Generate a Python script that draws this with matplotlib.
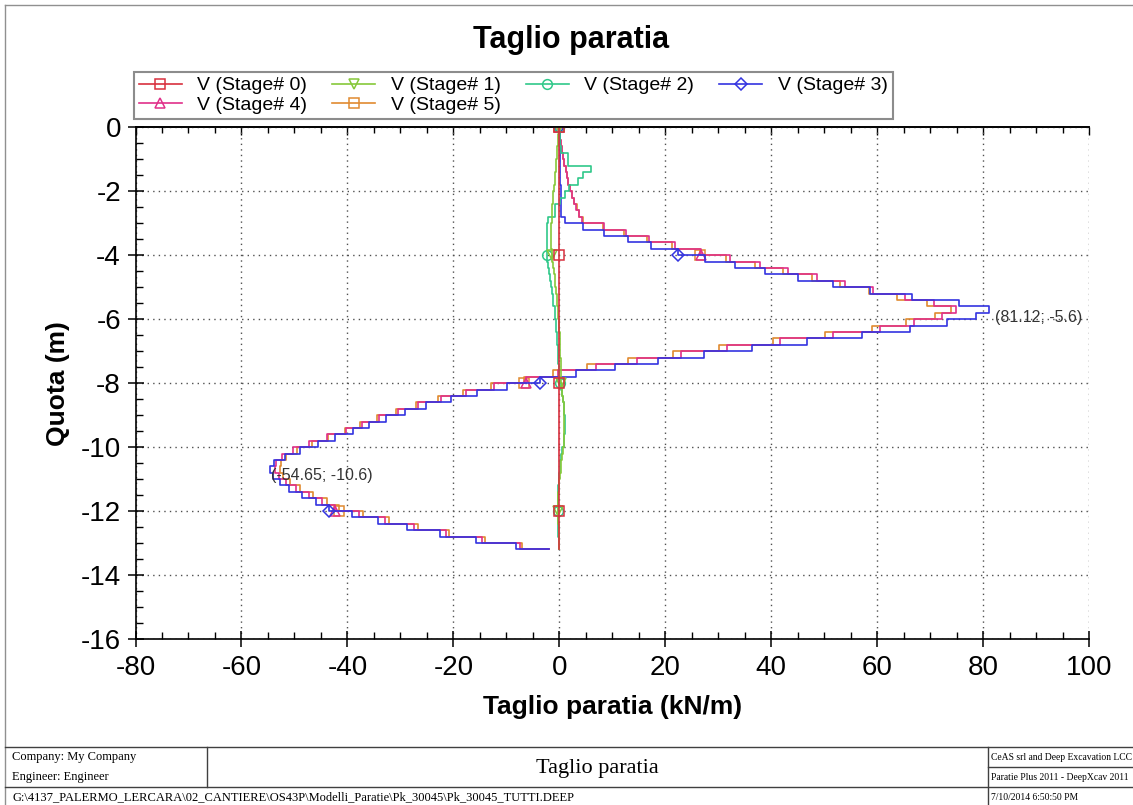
import matplotlib
matplotlib.use('Agg')
import matplotlib.pyplot as plt
from matplotlib.lines import Line2D
from matplotlib.ticker import MultipleLocator

plt.rcParams['font.family'] = ['Liberation Sans', 'DejaVu Sans']
plt.rcParams['axes.unicode_minus'] = False

W, H = 1133, 805

# ---------------- data ----------------
# nodes every 0.2 m from 0 to -13.2 (last node repeated for the end value)
depth = [round(-0.2 * i, 1) for i in range(67)] + [-13.2]

labels = ['V (Stage# 0)', 'V (Stage# 1)', 'V (Stage# 2)',
          'V (Stage# 3)', 'V (Stage# 4)', 'V (Stage# 5)']

stage0 = [0.0] * 68

stage1 = [0.0, -0.1, -0.2, -0.3, -0.4, -0.5, -0.6, -0.7, -0.8, -0.9,
          -1.0, -1.1, -1.2, -1.3, -1.4, -1.45, -1.5, -1.55, -1.55, -1.5,
          -1.4, -1.3, -1.2, -1.05, -0.9, -0.75, -0.6, -0.5, -0.4, -0.3,
          -0.2, -0.1, 0.0, 0.05, 0.1, 0.15, 0.2, 0.25, 0.3, 0.35,
          0.4, 0.5, 0.6, 0.7, 0.8, 0.85, 0.9, 0.9, 0.9, 0.85,
          0.8, 0.7, 0.55, 0.4, 0.25, 0.1, 0.0, -0.1, -0.15, -0.2,
          -0.2, -0.2, -0.15, -0.1, -0.1, -0.05, 0.0, 0.0]

stage2 = [0.0, 0.1, 0.2, 0.2, 0.3, 1.7, 1.7, 6.0, 4.5, 3.5,
          1.8, 1.1, 0.1, -0.8, -0.8, -2.2, -2.3, -2.4, -2.4, -2.4,
          -2.4, -2.3, -2.1, -1.9, -1.7, -1.5, -1.3, -1.2, -1.1, -0.9,
          -0.8, -0.7, -0.6, -0.5, -0.4, -0.3, -0.25, -0.2, -0.1, 0.0,
          0.1, 0.3, 0.5, 0.7, 0.8, 0.9, 1.0, 1.0, 1.0, 0.9,
          0.8, 0.6, 0.4, 0.2, 0.1, 0.0, -0.1, -0.2, -0.3, -0.3,
          -0.3, -0.3, -0.3, -0.2, -0.2, -0.1, 0.0, 0.0]

stage3 = [0.0, 0.1, 0.1, 0.1, 0.1, 0.2, 0.2, 0.2, 0.2, 0.2,
          0.3, 0.3, 0.3, 0.3, 0.3, 1.0, 4.5, 8.5, 12.9, 17.4,
          22.4, 27.5, 33.1, 38.8, 45.1, 51.6, 58.7, 66.6, 75.4, 81.12,
          78.6, 73.2, 66.3, 57.1, 46.7, 36.3, 27.3, 18.6, 10.5, 3.2,
          -3.6, -9.8, -15.5, -20.5, -25.1, -29.2, -32.8, -36.0, -39.0, -42.3,
          -45.6, -49.0, -51.8, -53.8, -54.65, -54.0, -52.8, -51.0, -48.6, -46.0,
          -43.4, -39.1, -34.2, -28.7, -22.6, -15.7, -8.2, -1.9]

stage4 = [0.0, 0.1, 0.2, 0.3, 0.5, 0.7, 0.9, 1.2, 1.4, 1.7,
          2.0, 2.4, 2.8, 3.2, 3.7, 4.3, 8.5, 12.6, 17.0, 21.8,
          26.8, 32.2, 37.9, 43.2, 48.6, 54.0, 59.3, 65.3, 70.7, 74.8,
          72.3, 66.9, 60.6, 51.7, 41.7, 31.6, 23.0, 14.6, 6.9, -0.3,
          -6.3, -12.3, -17.7, -22.4, -26.6, -30.4, -34.0, -37.2, -40.3, -43.8,
          -47.2, -50.2, -52.4, -53.4, -53.6, -53.0, -51.6, -49.7, -47.3, -44.7,
          -42.3, -37.8, -32.9, -27.4, -21.4, -14.6, -7.4, -1.9]

stage5 = [0.0, 0.1, 0.2, 0.3, 0.5, 0.7, 0.9, 1.2, 1.4, 1.7,
          2.0, 2.4, 2.8, 3.3, 3.8, 4.4, 8.2, 12.2, 16.5, 21.2,
          26.6, 31.5, 37.0, 42.3, 47.8, 53.0, 58.4, 63.8, 69.4, 73.9,
          71.0, 65.5, 59.0, 50.2, 40.3, 30.2, 21.4, 13.0, 5.3, -1.2,
          -6.6, -12.8, -18.2, -22.9, -27.1, -30.9, -34.5, -37.6, -40.5, -43.6,
          -46.7, -49.5, -51.6, -52.6, -52.8, -52.2, -50.8, -48.9, -46.5, -43.9,
          -41.5, -37.0, -32.1, -26.7, -20.8, -14.0, -7.0, -1.9]

series = [stage0, stage1, stage2, stage3, stage4, stage5]
colors = ['#D8303E', '#86C83A', '#30C88A', '#3434E0', '#E0308A', '#E08A30']
markers = ['s', 'v', 'o', 'D', '^', 's']
msizes = [7.5, 7, 7, 6, 7, 7.5]
zorders = [2.5, 2.4, 2.3, 2.2, 2.1, 2.0]

max_label = '(81.12; -5.6)'
min_label = '(-54.65; -10.6)'

# ---------------- figure ----------------
fig = plt.figure(figsize=(W / 100, H / 100), dpi=100)


def fx(px):
    return px / W


def fy(py):
    return 1 - py / H


ax = fig.add_axes([fx(135.5), fy(639), fx(1089) - fx(135.5), fy(127.3) - fy(639)])

handles = []
for vals, col, mk, ms, zo, lab in zip(series, colors, markers, msizes, zorders, labels):
    h, = ax.plot(vals, depth, drawstyle='steps-post', color=col, lw=1.2,
                 marker=mk, markersize=ms, markerfacecolor='none',
                 markeredgecolor=col, markeredgewidth=1.1, markevery=20,
                 label=lab, zorder=zo)
    handles.append(h)

ax.set_xlim(-80, 100)
ax.set_ylim(-16, 0)
ax.xaxis.set_major_locator(MultipleLocator(20))
ax.xaxis.set_minor_locator(MultipleLocator(5))
ax.yaxis.set_major_locator(MultipleLocator(2))
ax.yaxis.set_minor_locator(MultipleLocator(0.5))
ax.tick_params(which='major', direction='inout', length=11, width=1.1,
               labelsize=20, pad=5, colors='black', top=False, right=False)
ax.tick_params(which='minor', direction='in', length=5, width=1.0,
               top=False, right=False)
ax.tick_params(axis='x', which='major', pad=6)

sec = ax.secondary_xaxis('top')
sec.xaxis.set_major_locator(MultipleLocator(20))
sec.xaxis.set_minor_locator(MultipleLocator(5))
sec.tick_params(which='major', direction='in', length=6, width=1.0, labeltop=False)
sec.tick_params(which='minor', direction='in', length=4, width=1.0, labeltop=False)
sec.spines['top'].set_linewidth(1.2)

for s in ['left', 'bottom', 'top']:
    ax.spines[s].set_linewidth(1.2)
ax.spines['right'].set_visible(False)

ax.grid(which='major', linestyle=(0, (1, 3)), color='#505050', lw=1.0)

ax.set_xlabel('Taglio paratia (kN/m)', fontsize=19, fontweight='bold', labelpad=10)
ax.set_ylabel('Quota (m)', fontsize=19, fontweight='bold', labelpad=8)

ax.text(82.2, -5.95, max_label, fontsize=11.5, color='#333333', ha='left', va='center')
ax.text(-54.4, -10.9, min_label, fontsize=11.5, color='#333333', ha='left', va='center')

fig.text(0.504, fy(40), 'Taglio paratia', fontsize=22, fontweight='bold',
         ha='center', va='center')

order = [0, 4, 1, 5, 2, 3]
leg = fig.legend([handles[i] for i in order], [labels[i] for i in order],
                 loc='upper left', bbox_to_anchor=(fx(134), fy(72)),
                 ncol=4, fontsize=14, frameon=True, fancybox=False,
                 edgecolor='#707070', borderpad=0.25, labelspacing=0.1,
                 handlelength=2.2, handletextpad=0.8, columnspacing=1.3,
                 borderaxespad=0.0)
leg.get_frame().set_linewidth(1.5)

# ---------------- frame & footer ----------------
lc = '#404040'


def hline(y, x0, x1, lw=1.0, c=lc):
    fig.add_artist(Line2D([fx(x0), fx(x1)], [fy(y), fy(y)], color=c, lw=lw,
                          transform=fig.transFigure))


def vline(x, y0, y1, lw=1.0, c=lc):
    fig.add_artist(Line2D([fx(x), fx(x)], [fy(y0), fy(y1)], color=c, lw=lw,
                          transform=fig.transFigure))


vline(5, 5, 805, c='#909090')
hline(5, 5, W, c='#909090')
hline(747, 5, W)
hline(787, 5, W)
vline(207, 747, 787)
vline(988, 747, 805)
hline(767, 988, W)

serif = ['Liberation Serif', 'DejaVu Serif']
fig.text(fx(12), fy(757), 'Company: My Company', fontsize=9, family=serif, va='center')
fig.text(fx(12), fy(777), 'Engineer: Engineer', fontsize=9, family=serif, va='center')
fig.text(fx(12), fy(797),
         'G:\\4137_PALERMO_LERCARA\\02_CANTIERE\\OS43P\\Modelli_Paratie\\Pk_30045\\Pk_30045_TUTTI.DEEP',
         fontsize=9, family=serif, va='center')
fig.text(fx(597), fy(768), 'Taglio paratia', fontsize=16, family=serif,
         ha='center', va='center')
fig.text(fx(991), fy(757), 'CeAS srl and Deep Excavation LCC', fontsize=6.9,
         family=serif, va='center')
fig.text(fx(991), fy(777), 'Paratie Plus 2011 - DeepXcav 2011', fontsize=6.9,
         family=serif, va='center')
fig.text(fx(991), fy(797), '7/10/2014 6:50:50 PM', fontsize=6.9,
         family=serif, va='center')

fig.savefig('out.png', dpi=100)
